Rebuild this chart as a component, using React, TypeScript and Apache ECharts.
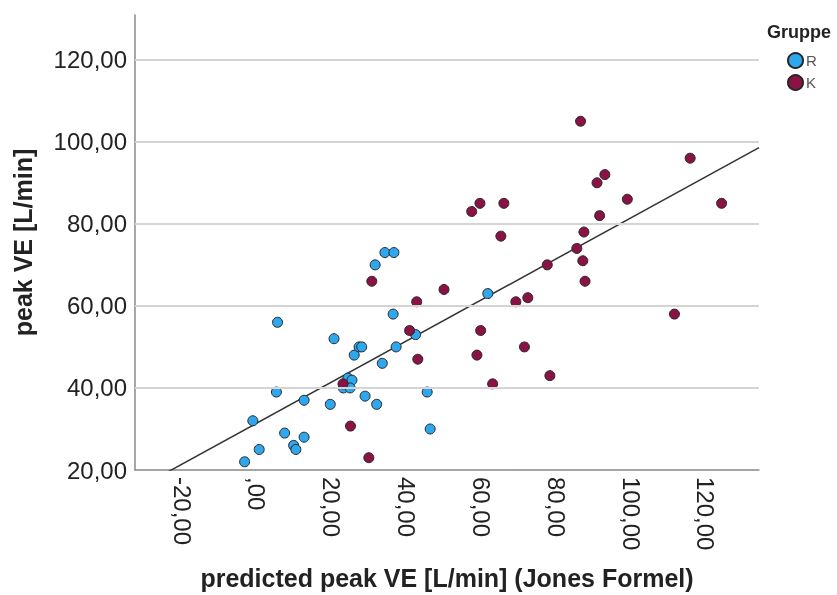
import React, { useEffect, useRef } from "react";
import * as echarts from "echarts";

// Group R: [predicted peak VE (Jones), measured peak VE]
const groupR: [number, number][] = [
  [5.5, 56], [20.6, 52], [26, 48], [24.3, 42.4], [25.4, 41.9], [23.1, 40], [24.9, 40],
  [5.2, 39], [12.6, 37], [19.6, 36], [-1.1, 32], [7.4, 29], [12.6, 28], [9.8, 26],
  [10.4, 25], [0.6, 25], [-3.3, 22], [27.3, 50], [28, 50], [36.4, 58], [42.4, 53],
  [37.2, 50], [33.5, 46], [28.9, 38], [32, 36], [45.5, 39], [46.3, 30], [34.2, 73],
  [36.6, 73], [31.6, 70], [61.7, 63],
];

// Group K
const groupK: [number, number][] = [
  [23, 41], [25, 30.7], [29.9, 23], [30.7, 66], [40.8, 54], [42.7, 61], [43, 47],
  [50, 64], [57.4, 83], [59.6, 85], [59.8, 54], [58.8, 48], [63, 41], [66, 85],
  [65.2, 77], [69.2, 61], [72.4, 62], [71.5, 50], [78.3, 43], [77.6, 70], [85.5, 74],
  [87.4, 78], [87.1, 71], [87.7, 66], [86.5, 105], [93, 92], [90.9, 90], [91.6, 82],
  [99, 86], [111.6, 58], [115.8, 96], [124.2, 85],
];

const groupNames = ["R", "K"];
const yGridValues = [40, 60, 80, 100, 120];

const X_MIN = -32.6;
const X_MAX = 134.2;
const Y_MIN = 20;
const Y_MAX = 130.9;
const STEP = 20;

const FONT = "'Liberation Sans', Arial, sans-serif";

// Least-squares fit over all points (both groups)
function fitLine(points: [number, number][]) {
  const n = points.length;
  const mx = points.reduce((s, p) => s + p[0], 0) / n;
  const my = points.reduce((s, p) => s + p[1], 0) / n;
  let sxy = 0;
  let sxx = 0;
  for (const [x, y] of points) {
    sxy += (x - mx) * (y - my);
    sxx += (x - mx) * (x - mx);
  }
  const b = sxy / sxx;
  const a = my - b * mx;
  return { a, b };
}

// "120,00", ",00", "-20,00"; off-step boundary ticks stay blank
function fmt(v: number): string {
  if (Math.abs(v / STEP - Math.round(v / STEP)) > 1e-6) return "";
  const s = v.toFixed(2).replace(".", ",");
  return s.startsWith("0,") ? s.slice(1) : s;
}

export default function App() {
  const ref = useRef<HTMLDivElement>(null);

  useEffect(() => {
    if (!ref.current) return;
    const chart = echarts.init(ref.current, undefined, { renderer: "svg" });
    const { a, b } = fitLine([...groupR, ...groupK]);
    const fit: [number, number][] = [
      [X_MIN, a + b * X_MIN],
      [X_MAX, a + b * X_MAX],
    ];
    const pointStyle = (color: string) => ({
      color,
      opacity: 1,
      borderColor: "#262626",
      borderWidth: 1,
    });

    chart.setOption({
      animation: false,
      textStyle: { fontFamily: FONT },
      title: {
        text: "Gruppe",
        left: 767,
        top: 23,
        padding: 0,
        textStyle: { fontFamily: FONT, fontSize: 18, fontWeight: "bold", color: "#222" },
      },
      legend: {
        data: groupNames,
        orient: "vertical",
        left: 787,
        top: 52,
        padding: 0,
        itemWidth: 15,
        itemHeight: 15,
        itemGap: 5,
        icon: "circle",
        textStyle: {
          fontFamily: FONT,
          fontSize: 15,
          lineHeight: 15,
          color: "#555",
          padding: [0, 0, 0, -2],
        },
      },
      grid: { left: 135, right: 78, top: 15, bottom: 124, containLabel: false },
      xAxis: {
        type: "value",
        min: X_MIN,
        max: X_MAX,
        splitNumber: 8,
        minInterval: STEP,
        maxInterval: STEP,
        name: "predicted peak VE [L/min] (Jones Formel)",
        nameLocation: "middle",
        nameGap: 95,
        nameTextStyle: { fontFamily: FONT, fontSize: 25, fontWeight: "bold", color: "#222" },
        axisLine: { show: true, onZero: false, lineStyle: { color: "#888", width: 1.5 } },
        axisTick: { show: false },
        splitLine: { show: false },
        axisLabel: {
          rotate: -90,
          margin: 7,
          fontFamily: FONT,
          fontSize: 24,
          color: "#222",
          showMinLabel: true,
          showMaxLabel: true,
          formatter: fmt,
        },
      },
      yAxis: {
        type: "value",
        min: Y_MIN,
        max: Y_MAX,
        splitNumber: 6,
        minInterval: STEP,
        maxInterval: STEP,
        name: "peak VE [L/min]",
        nameLocation: "middle",
        nameGap: 100,
        nameTextStyle: { fontFamily: FONT, fontSize: 25, fontWeight: "bold", color: "#222" },
        axisLine: { show: true, onZero: false, lineStyle: { color: "#888", width: 1.5 } },
        axisTick: { show: false },
        splitLine: { show: false },
        axisLabel: {
          margin: 8,
          fontFamily: FONT,
          fontSize: 24,
          color: "#222",
          formatter: fmt,
        },
      },
      series: [
        {
          name: "grid",
          type: "line",
          data: [],
          z: 0,
          silent: true,
          markLine: {
            silent: true,
            symbol: "none",
            label: { show: false },
            lineStyle: { color: "#d4d4d4", width: 2, type: "solid" },
            data: yGridValues.map((v) => ({ yAxis: v })),
          },
        },
        {
          name: "fit",
          type: "line",
          data: fit,
          clip: true,
          showSymbol: false,
          symbol: "none",
          z: 1,
          lineStyle: { color: "#333", width: 1.5 },
        },
        {
          name: "R",
          type: "scatter",
          data: groupR,
          symbolSize: 10,
          z: 3,
          itemStyle: pointStyle("#2ea7ee"),
        },
        {
          name: "K",
          type: "scatter",
          data: groupK,
          symbolSize: 10,
          z: 3,
          itemStyle: pointStyle("#8a1244"),
        },
      ],
    });
    return () => chart.dispose();
  }, []);

  return (
    <div
      ref={ref}
      style={{ position: "fixed", left: 0, top: 0, width: 837, height: 595 }}
    />
  );
}
